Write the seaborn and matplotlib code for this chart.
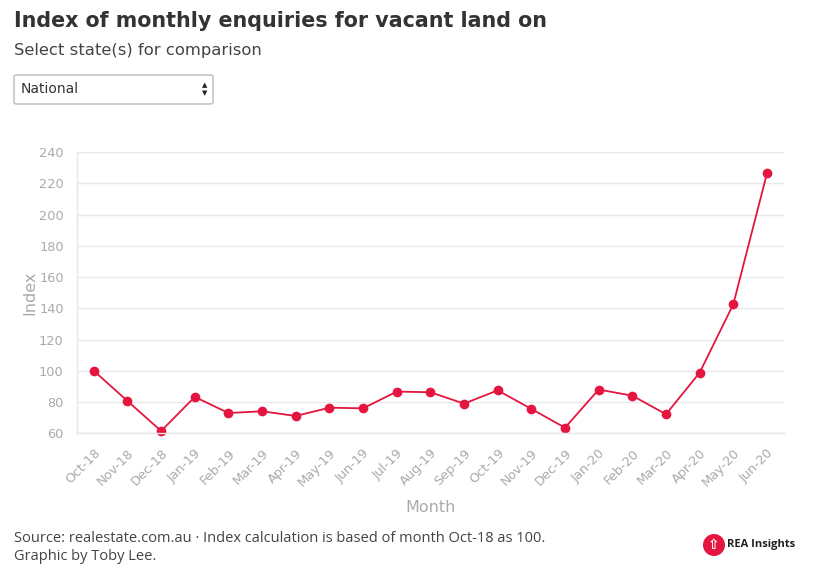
import pandas as pd
import matplotlib.pyplot as plt
import matplotlib.patches as mpatches
import seaborn as sns

# Data
months = ["Oct-18", "Nov-18", "Dec-18", "Jan-19", "Feb-19", "Mar-19", "Apr-19",
          "May-19", "Jun-19", "Jul-19", "Aug-19", "Sep-19", "Oct-19", "Nov-19",
          "Dec-19", "Jan-20", "Feb-20", "Mar-20", "Apr-20", "May-20", "Jun-20"]
index_values = [100, 80.7, 61.5, 83.3, 73.0, 74.1, 71.1, 76.4, 76.0, 86.7, 86.3,
                79.0, 87.5, 75.6, 63.6, 88.0, 84.1, 72.2, 98.8, 142.6, 226.3]
y_ticks = [60, 80, 100, 120, 140, 160, 180, 200, 220, 240]

df = pd.DataFrame({"Month": months, "Index": index_values})

sns.set_theme(style="white")
plt.rcParams["font.family"] = ["DejaVu Sans"]

fig = plt.figure(figsize=(8.19, 5.79), dpi=100)
ax = fig.add_axes([0.094, 0.2516, 0.863, 0.4858])

red = "#e4163f"
sns.lineplot(data=df, x="Month", y="Index", color=red, linewidth=1.3,
             marker="o", markersize=7, markeredgewidth=0, ax=ax, sort=False,
             clip_on=False)

ax.set_ylim(60, 240)
ax.set_yticks(y_ticks)
ax.set_xlim(-0.5, len(months) - 0.5)
ax.grid(axis="y", color="#e8e8e8", linewidth=1)
ax.set_axisbelow(True)
for s in ["top", "right"]:
    ax.spines[s].set_visible(False)
for s in ["left", "bottom"]:
    ax.spines[s].set_color("#e6e6e6")
    ax.spines[s].set_linewidth(1)
ax.tick_params(axis="both", colors="#e6e6e6", labelcolor="#aaaaaa",
               length=6, width=1, labelsize=9.3)
plt.setp(ax.get_xticklabels(), rotation=45, ha="right", rotation_mode="anchor")
ax.set_xlabel("Month", color="#aaaaaa", fontsize=11.5, labelpad=8)
ax.set_ylabel("Index", color="#aaaaaa", fontsize=11.5, labelpad=1)

# Header
fig.text(14 / 819, 1 - 21 / 579, "Index of monthly enquiries for vacant land on",
         fontsize=14.9, fontweight="bold", color="#333333", va="center")
fig.text(14 / 819, 1 - 50 / 579, "Select state(s) for comparison",
         fontsize=11.8, color="#444444", va="center")

# Dropdown box
box = mpatches.FancyBboxPatch((14 / 819, 1 - 104 / 579), 199 / 819, 29 / 579,
                              boxstyle="round,pad=0,rounding_size=0.003",
                              transform=fig.transFigure, facecolor="white",
                              edgecolor="#bbbbbb", linewidth=1)
fig.patches.append(box)
fig.text(21 / 819, 1 - 89 / 579, "National", fontsize=10, color="#333333",
         va="center")
fig.text(205 / 819, 1 - 85 / 579, "\u25b2", fontsize=5, color="#222222",
         va="center", ha="center")
fig.text(205 / 819, 1 - 93 / 579, "\u25bc", fontsize=5, color="#222222",
         va="center", ha="center")

# Footer
fig.text(14 / 819, 1 - 538 / 579,
         "Source: realestate.com.au \u00b7 Index calculation is based of month Oct-18 as 100.",
         fontsize=10.5, color="#444444", va="center", family="Open Sans")
fig.text(14 / 819, 1 - 556 / 579, "Graphic by Toby Lee.",
         fontsize=10.5, color="#444444", va="center", family="Open Sans")

# Logo
logo = mpatches.Ellipse((714 / 819, 1 - 545 / 579), 22 / 819, 22 / 579,
                        transform=fig.transFigure, facecolor=red, edgecolor="none")
fig.patches.append(logo)
fig.text(714 / 819, 1 - 545 / 579, "\u21e7", fontsize=10, color="white",
         ha="center", va="center", fontweight="bold")
fig.text(727 / 819, 1 - 545 / 579, "REA Insights", fontsize=8, color="#222222",
         ha="left", va="center", fontweight="bold", family="Open Sans")

fig.savefig("out.png", dpi=100)
